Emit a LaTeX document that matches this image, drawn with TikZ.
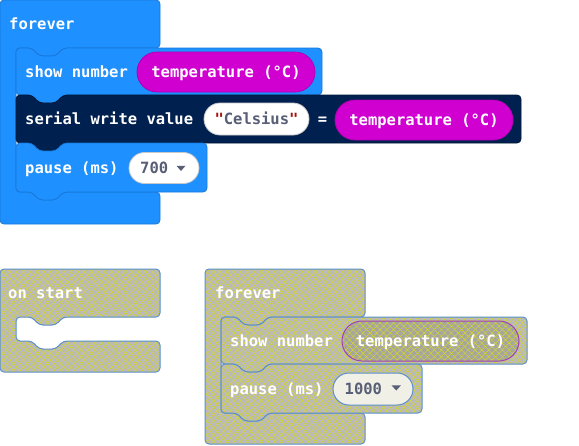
\documentclass[tikz,border=0pt]{standalone}
\usepackage{fontspec}
\setmonofont{DejaVu Sans Mono}
\usetikzlibrary{shapes.misc,patterns.meta}

\definecolor{mcblue}{HTML}{1E90FF}
\definecolor{mcblueline}{HTML}{1878D8}
\definecolor{mcnavy}{HTML}{002050}
\definecolor{mcnavyline}{HTML}{001838}
\definecolor{mcmag}{HTML}{D000D0}
\definecolor{mcmagline}{HTML}{B000B0}
\definecolor{mctxt}{HTML}{575E75}
\definecolor{mcquote}{HTML}{A31515}
\definecolor{mcpillline}{HTML}{C8C8C8}
\definecolor{dfill}{HTML}{BABABA}
\definecolor{dhatch}{HTML}{D8D820}
\definecolor{dline}{HTML}{5C8FCB}
\definecolor{dpill}{HTML}{A6A6A0}
\definecolor{dpillline}{HTML}{A040B8}
\definecolor{dvalue}{HTML}{F0F0E6}

\newcommand\blockfont{\ttfamily\bfseries\fontsize{15.5}{18}\selectfont}

% statement block: x, y, width, height (notch cut in on top, tab below)
\newcommand\stmtblock[4]{%
  (#1,#2) -- ({#1+16},#2) -- ({#1+23},{#2+8}) -- ({#1+40},{#2+8}) -- ({#1+47},#2)
  -- ({#1+#3},#2) -- ({#1+#3},{#2+#4})
  -- ({#1+47},{#2+#4}) -- ({#1+40},{#2+#4+8}) -- ({#1+23},{#2+#4+8}) -- ({#1+16},{#2+#4})
  -- (#1,{#2+#4}) -- cycle}

% C-shaped event block: x, y, width, header height, gap height, arm height
\newcommand\cblock[6]{%
  (#1,#2) -- ({#1+#3},#2) -- ({#1+#3},{#2+#4})
  -- ({#1+63},{#2+#4}) -- ({#1+56},{#2+#4+8}) -- ({#1+39},{#2+#4+8}) -- ({#1+32},{#2+#4})
  -- ({#1+16},{#2+#4}) -- ({#1+16},{#2+#4+#5})
  -- ({#1+32},{#2+#4+#5}) -- ({#1+39},{#2+#4+#5+8}) -- ({#1+56},{#2+#4+#5+8}) -- ({#1+63},{#2+#4+#5})
  -- ({#1+#3},{#2+#4+#5}) -- ({#1+#3},{#2+#4+#5+#6})
  -- (#1,{#2+#4+#5+#6}) -- cycle}

\tikzset{
  blk/.style={rounded corners=4pt, line width=0.8pt},
  hatchlines/.style={
    postaction={pattern={Lines[angle=45,distance=4.8pt,line width=0.45pt]}, pattern color=dhatch},
    postaction={pattern={Lines[angle=-45,distance=4.8pt,line width=0.45pt]}, pattern color=dhatch}},
  offblk/.style={blk, fill=dfill, hatchlines, postaction={draw=dline, line width=1pt}},
  lbl/.style={text=white, font=\blockfont, inner sep=0pt, anchor=west,
    text height=12pt, text depth=1pt},
  pill/.style={rounded rectangle, font=\blockfont, inner sep=0pt,
    text height=12pt, text depth=1pt, line width=0.8pt},
  reporter/.style={pill, fill=mcmag, draw=mcmagline, text=white},
  valuepill/.style={pill, fill=white, draw=mcpillline, text=mctxt},
  offreporter/.style={pill, fill=dpill, hatchlines, postaction={draw=dpillline, line width=1pt}},
  offvalue/.style={pill, fill=dvalue, draw=dline, line width=1pt, text=mctxt},
  caret/.style={fill=mctxt},
}

\begin{document}
\begin{tikzpicture}[x=1pt,y=-1pt]
\useasboundingbox (0,0) rectangle (579,445);

% ---- enabled forever loop ----
\path[blk, fill=mcblue, draw=mcblueline] \cblock{0}{0}{160}{48}{144}{32};
\node[lbl] (fv) at (9,24) {forever};

\path[blk, fill=mcblue, draw=mcblueline] \stmtblock{16}{48}{306}{47};
\node[lbl] (sn) at (25,71.5) {show number};
\node[reporter, minimum width=178pt, minimum height=40pt] (t1) at (226,72) {temperature (°C)};

\path[blk, fill=mcnavy, draw=mcnavyline] \stmtblock{16}{95}{505}{48};
\node[lbl] (sw) at (25,119) {serial write value};
\node[valuepill, minimum width=105pt, minimum height=32pt] (cel) at (256.5,119)
  {\textcolor{mcquote}{"}Celsius\textcolor{mcquote}{"}};
\node[lbl, anchor=center] (eq) at (322.5,119) {=};
\node[reporter, minimum width=178pt, minimum height=40pt] (t2) at (424,120) {temperature (°C)};

\path[blk, fill=mcblue, draw=mcblueline] \stmtblock{16}{143}{191}{49};
\node[lbl] (ps) at (25,168) {pause (ms)};
\node[valuepill, minimum width=70pt, minimum height=31pt] (p700) at (164,168) {};
\node[lbl, text=mctxt] (v700) at (140,168) {700};
\fill[caret] (176.5,165.8) -- (185.5,165.8) -- (181,171) -- cycle;

% ---- disabled on start ----
\path[offblk] \cblock{0}{269}{160}{48}{24}{31};
\node[lbl] (os) at (8,293) {on start};

% ---- disabled forever loop ----
\path[offblk] \cblock{205}{269}{160}{48}{96}{31};
\node[lbl] (fv2) at (215,293) {forever};

\path[offblk] \stmtblock{221}{317}{306}{47};
\node[lbl] (sn2) at (230,340.5) {show number};
\node[offreporter, minimum width=177pt, minimum height=40pt] (t3) at (430.5,341) {};
\node[lbl, anchor=center] (t3txt) at (t3.center) {temperature (°C)};

\path[offblk] \stmtblock{221}{364}{201}{49};
\node[lbl] (ps2) at (230,388.5) {pause (ms)};
\node[offvalue, minimum width=80pt, minimum height=32pt] (p1000) at (373,389) {};
\node[lbl, text=mctxt] (v1000) at (344.5,389) {1000};
\fill[caret] (391.5,385.3) -- (401,385.3) -- (396.25,390.5) -- cycle;
\end{tikzpicture}
\end{document}
